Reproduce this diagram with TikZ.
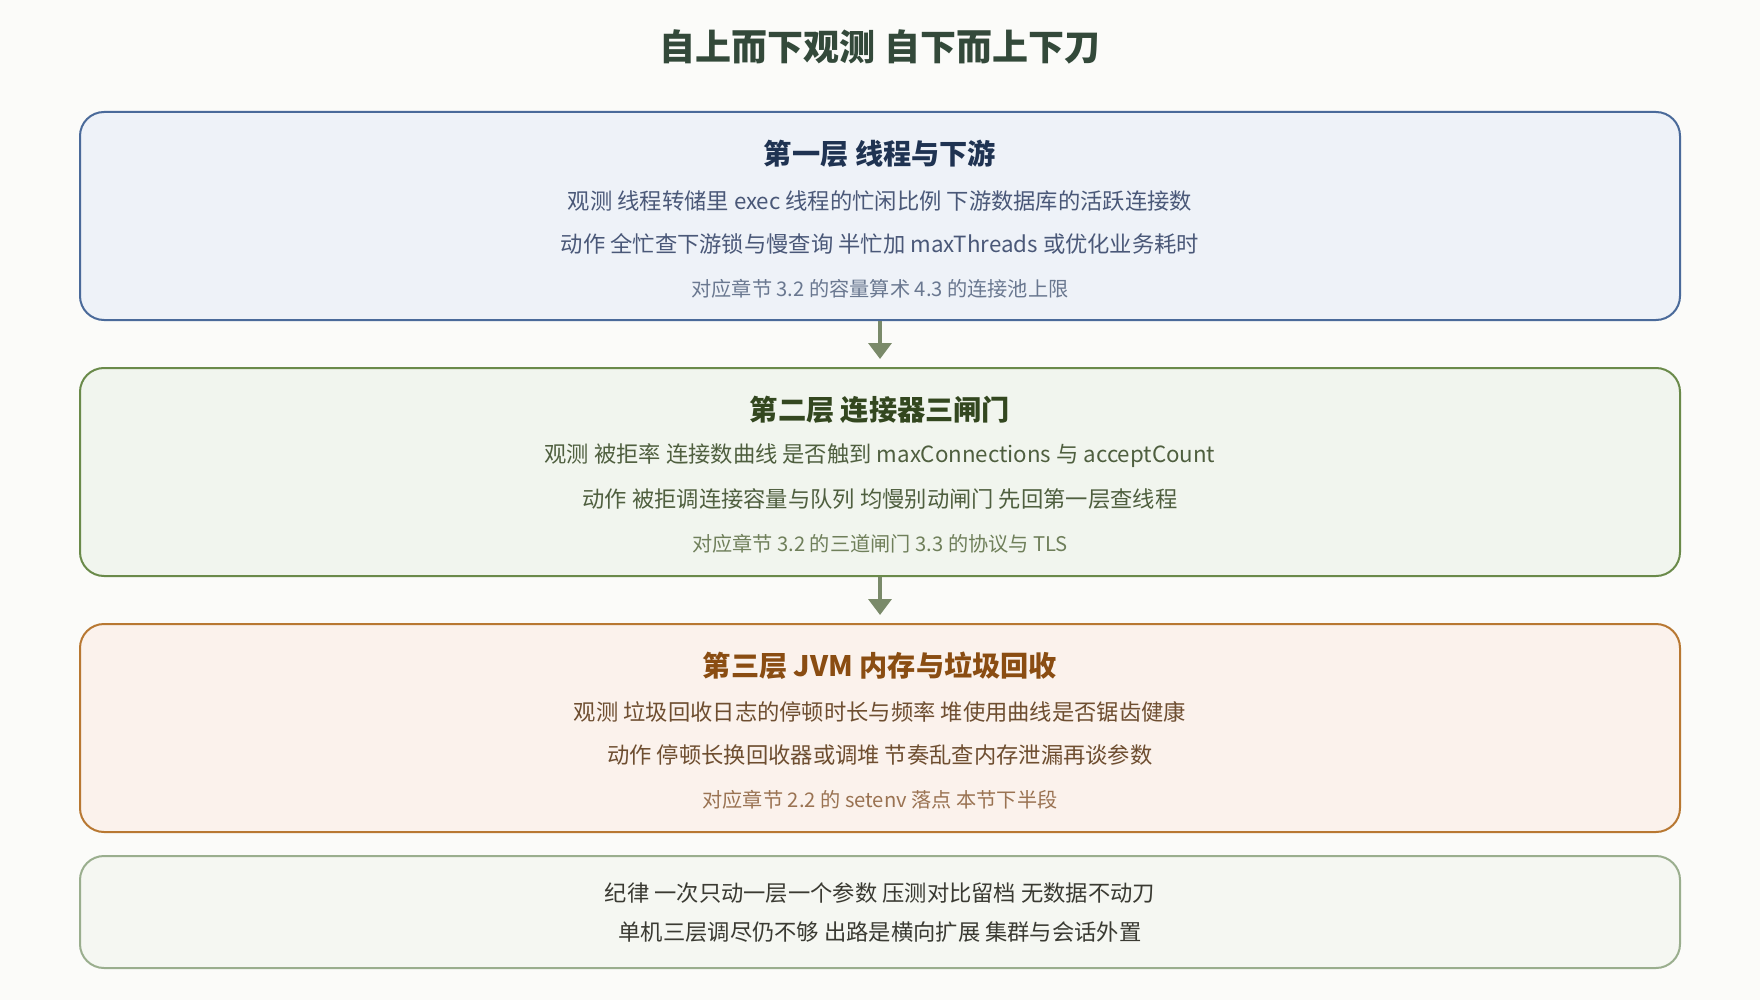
\documentclass[tikz,border=0pt]{standalone}
\usepackage{fontspec}
\setmainfont{Noto Sans CJK SC}
\usetikzlibrary{arrows.meta}
\definecolor{bgc}{HTML}{FBFBF9}
\definecolor{titlec}{HTML}{33493A}
\definecolor{aB}{HTML}{4A6A9A}\definecolor{aF}{HTML}{EEF2F8}
\definecolor{aT}{HTML}{1F3352}\definecolor{aX}{HTML}{4A5878}\definecolor{aS}{HTML}{6A7890}
\definecolor{bB}{HTML}{6A8A4A}\definecolor{bF}{HTML}{F1F5EE}
\definecolor{bT}{HTML}{33471F}\definecolor{bX}{HTML}{4F5F3F}\definecolor{bS}{HTML}{6F7F5A}
\definecolor{cB}{HTML}{B87832}\definecolor{cF}{HTML}{FBF2EC}
\definecolor{cT}{HTML}{8A4D12}\definecolor{cX}{HTML}{6E4E30}\definecolor{cS}{HTML}{9A7352}
\definecolor{dB}{HTML}{9AAE8E}\definecolor{dF}{HTML}{F5F7F2}\definecolor{dX}{HTML}{3A3A32}
\definecolor{arrc}{HTML}{7A8A6A}
\begin{document}
\begin{tikzpicture}[x=1pt,y=-1pt,
  layerbox/.style={draw, line width=2pt, rounded corners=24pt, minimum width=1600pt, inner sep=0pt},
  boxtitle/.style={inner sep=0pt, font=\fontsize{28.2}{32}\selectfont\bfseries},
  bodyline/.style={inner sep=0pt, font=\fontsize{22.3}{26}\selectfont},
  smallline/.style={inner sep=0pt, font=\fontsize{20.2}{24}\selectfont},
  flowarrow/.style={draw=arrc, line width=3.5pt, -{Triangle[width=23pt,length=16pt]}, shorten >=8pt}
]
\fill[bgc] (0,0) rectangle (1760,1000);
\useasboundingbox (0,0) rectangle (1760,1000);

\node[inner sep=0pt, text=titlec, font=\fontsize{36}{40}\selectfont\bfseries] (title) at (880,47) {自上而下观测 自下而上下刀};

% layer 1
\node[layerbox, draw=aB, fill=aF, minimum height=208pt] (l1) at (880,216) {};
\node[boxtitle, text=aT] (l1t) at (880,154) {第一层 线程与下游};
\node[bodyline, text=aX] (l1a) at (880,201) {观测 线程转储里 exec 线程的忙闲比例 下游数据库的活跃连接数};
\node[bodyline, text=aX] (l1b) at (880,244) {动作 全忙查下游锁与慢查询 半忙加 maxThreads 或优化业务耗时};
\node[smallline, text=aS] (l1c) at (880,289) {对应章节 3.2 的容量算术 4.3 的连接池上限};

% layer 2
\node[layerbox, draw=bB, fill=bF, minimum height=208pt] (l2) at (880,472) {};
\node[boxtitle, text=bT] (l2t) at (880,410) {第二层 连接器三闸门};
\node[bodyline, text=bX] (l2a) at (880,456) {观测 被拒率 连接数曲线 是否触到 maxConnections 与 acceptCount};
\node[bodyline, text=bX] (l2b) at (880,499) {动作 被拒调连接容量与队列 均慢别动闸门 先回第一层查线程};
\node[smallline, text=bS] (l2c) at (880,544) {对应章节 3.2 的三道闸门 3.3 的协议与 TLS};

% layer 3
\node[layerbox, draw=cB, fill=cF, minimum height=208pt] (l3) at (880,728) {};
\node[boxtitle, text=cT] (l3t) at (880,666) {第三层 JVM 内存与垃圾回收};
\node[bodyline, text=cX] (l3a) at (880,712) {观测 垃圾回收日志的停顿时长与频率 堆使用曲线是否锯齿健康};
\node[bodyline, text=cX] (l3b) at (880,755) {动作 停顿长换回收器或调堆 节奏乱查内存泄漏再谈参数};
\node[smallline, text=cS] (l3c) at (880,800) {对应章节 2.2 的 setenv 落点 本节下半段};

% discipline box
\node[layerbox, draw=dB, fill=dF, minimum height=112pt] (l4) at (880,912) {};
\node[bodyline, text=dX] (l4a) at (880,893) {纪律 一次只动一层一个参数 压测对比留档 无数据不动刀};
\node[bodyline, text=dX] (l4b) at (880,932) {单机三层调尽仍不够 出路是横向扩展 集群与会话外置};

% arrows
\draw[flowarrow] (l1.south) -- (l2.north);
\draw[flowarrow] (l2.south) -- (l3.north);
\end{tikzpicture}
\end{document}
